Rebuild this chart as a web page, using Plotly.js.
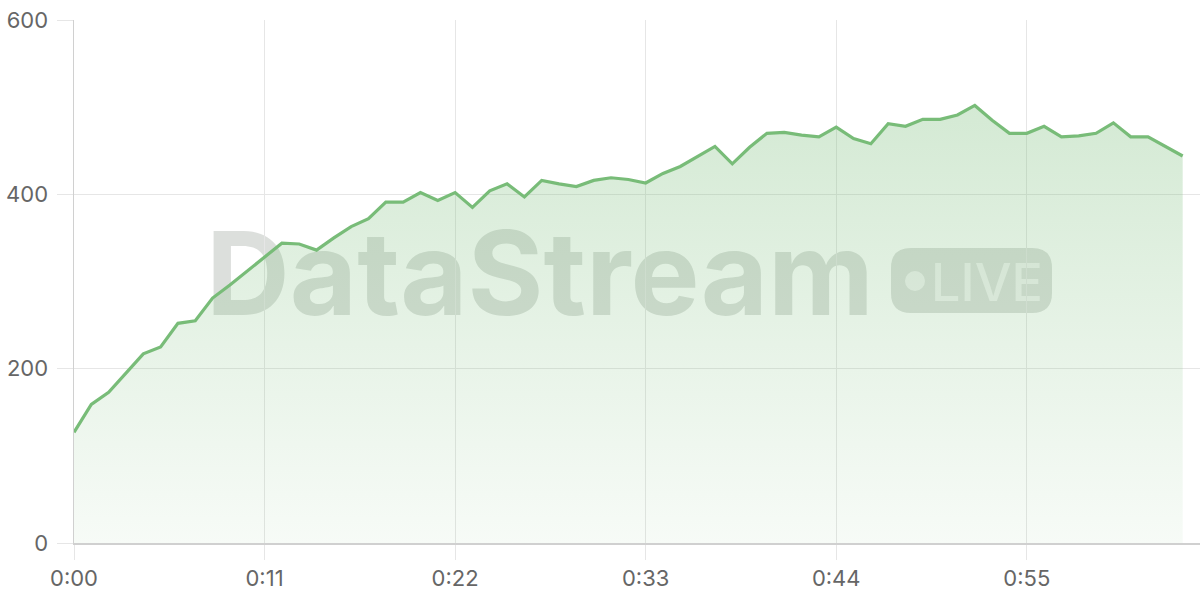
<!DOCTYPE html>
<html>
<head>
<meta charset="utf-8">
<script src="https://cdn.plot.ly/plotly-3.0.1.min.js"></script>
<style>
  html, body { margin: 0; padding: 0; background: #fff; }
  #chart { width: 1200px; height: 600px; }
</style>
</head>
<body>
<div id="chart"></div>
<script>
// elapsed time in seconds, one reading per second
const seconds = [
   0,  1,  2,  3,  4,  5,  6,  7,  8,  9, 10, 11, 12, 13, 14, 15,
  16, 17, 18, 19, 20, 21, 22, 23, 24, 25, 26, 27, 28, 29, 30, 31,
  32, 33, 34, 35, 36, 37, 38, 39, 40, 41, 42, 43, 44, 45, 46, 47,
  48, 49, 50, 51, 52, 53, 54, 55, 56, 57, 58, 59, 60, 61, 62, 63, 64
];
const values = [
  127, 159, 173, 195, 217, 225, 252, 255, 281, 296, 312, 328, 344, 343, 336, 350,
  363, 372, 391, 391, 402, 393, 402, 385, 404, 412, 397, 416, 412, 409, 416, 419,
  417, 413, 424, 432, 444, 455, 435, 454, 470, 471, 468, 466, 477, 464, 458, 481,
  478, 486, 486, 491, 502, 485, 470, 470, 478, 466, 467, 470, 482, 466, 466, 455, 444
];
const xTickVals = [0, 11, 22, 33, 44, 55];
const xTickText = ['0:00', '0:11', '0:22', '0:33', '0:44', '0:55'];
const yTickVals = [0, 200, 400, 600];

const green = '#78bc78';
const gridColor = '#e6e6e6';
const tickFont = { family: 'Inter, "Noto Sans", sans-serif', size: 22, color: '#666666' };
const wmColor = 'rgba(110,120,110,0.24)';

// page pixel -> paper fraction (plot area is 74..1200 x 20..543)
const L = 74, T = 20, W = 1126, H = 523;
const px = x => (x - L) / W;
const py = y => (T + H - y) / H;

function roundRect(x0, y0, x1, y1, r) {
  const p = (x, y) => px(x) + ',' + py(y);
  return 'M' + p(x0 + r, y0) + ' L' + p(x1 - r, y0) + ' Q' + p(x1, y0) + ' ' + p(x1, y0 + r) +
    ' L' + p(x1, y1 - r) + ' Q' + p(x1, y1) + ' ' + p(x1 - r, y1) +
    ' L' + p(x0 + r, y1) + ' Q' + p(x0, y1) + ' ' + p(x0, y1 - r) +
    ' L' + p(x0, y0 + r) + ' Q' + p(x0, y0) + ' ' + p(x0 + r, y0) + ' Z';
}

const trace = {
  type: 'scatter',
  mode: 'lines',
  x: seconds,
  y: values,
  line: { color: green, width: 3.2 },
  fill: 'tozeroy',
  fillgradient: {
    type: 'vertical',
    colorscale: [[0, 'rgba(120,188,120,0.06)'], [1, 'rgba(120,188,120,0.32)']]
  },
  hoverinfo: 'skip'
};

const shapes = [
  {
    type: 'rect', xref: 'paper', yref: 'paper', layer: 'below',
    x0: px(200), x1: px(880), y0: py(316), y1: py(221),
    line: { width: 0 }, fillcolor: 'rgba(0,0,0,0)',
    label: {
      text: 'DataStream', textposition: 'middle center',
      font: { family: 'Inter, "Noto Sans", sans-serif', size: 116, weight: 700, color: wmColor }
    }
  },
  {
    type: 'path', xref: 'paper', yref: 'paper', layer: 'below',
    path: roundRect(891, 248, 1052, 313, 20),
    line: { width: 0 }, fillcolor: wmColor
  },
  {
    type: 'circle', xref: 'paper', yref: 'paper', layer: 'below',
    x0: px(905), x1: px(925), y0: py(291), y1: py(271),
    line: { width: 0 }, fillcolor: 'rgba(255,255,255,0.6)'
  },
  {
    type: 'rect', xref: 'paper', yref: 'paper', layer: 'below',
    x0: px(934), x1: px(1040), y0: py(304), y1: py(257),
    line: { width: 0 }, fillcolor: 'rgba(0,0,0,0)',
    label: {
      text: 'LIVE', textposition: 'middle center',
      font: { family: 'Inter, "Noto Sans", sans-serif', size: 52, weight: 500, color: 'rgba(255,255,255,0.6)' }
    }
  }
];

const layout = {
  width: 1200,
  height: 600,
  margin: { l: L, r: 0, t: T, b: 600 - T - H },
  paper_bgcolor: '#ffffff',
  plot_bgcolor: 'rgba(0,0,0,0)',
  showlegend: false,
  xaxis: {
    range: [0, 65],
    tickvals: xTickVals,
    ticktext: xTickText,
    ticks: 'outside',
    ticklen: 15,
    tickwidth: 1,
    tickcolor: gridColor,
    showgrid: true,
    gridcolor: gridColor,
    gridwidth: 1,
    showline: true,
    linecolor: '#d0d0d0',
    linewidth: 1.5,
    zeroline: false,
    tickfont: tickFont,
    fixedrange: true
  },
  yaxis: {
    range: [0, 600],
    tickvals: yTickVals,
    ticks: 'outside',
    ticklen: 16,
    tickwidth: 1,
    tickcolor: gridColor,
    ticklabelstandoff: 4,
    showgrid: true,
    gridcolor: gridColor,
    gridwidth: 1,
    showline: true,
    linecolor: '#d0d0d0',
    linewidth: 1.5,
    zeroline: false,
    tickfont: tickFont,
    fixedrange: true
  },
  shapes: shapes
};

Plotly.newPlot('chart', [trace], layout, { displayModeBar: false, staticPlot: true });
</script>
</body>
</html>
